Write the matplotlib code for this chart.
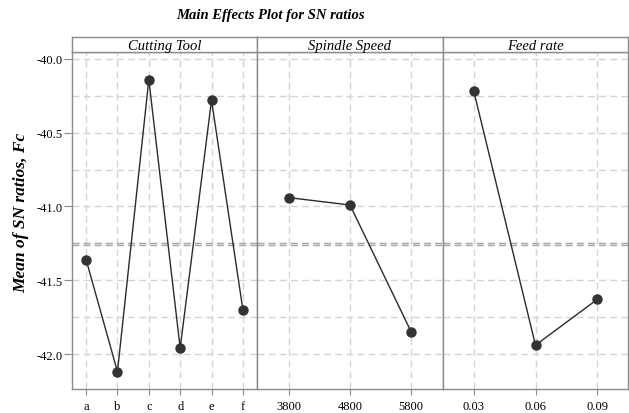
import matplotlib
matplotlib.use("Agg")
import matplotlib.pyplot as plt
import numpy as np

plt.rcParams['font.family'] = ['Liberation Serif', 'DejaVu Serif']

factors = ["Cutting Tool", "Spindle Speed", "Feed rate"]
tool_levels = ["a", "b", "c", "d", "e", "f"]
tool_means = [-41.36, -42.12, -40.14, -41.96, -40.28, -41.70]
speed_levels = ["3800", "4800", "5800"]
speed_means = [-40.94, -40.99, -41.85]
feed_levels = ["0.03", "0.06", "0.09"]
feed_means = [-40.22, -41.94, -41.63]
y_ticks = [-40.0, -40.5, -41.0, -41.5, -42.0]

levels_all = [tool_levels, speed_levels, feed_levels]
means_all = [tool_means, speed_means, feed_means]
grand_mean = float(np.mean(tool_means + speed_means + feed_means))

W, H = 629, 414
fig = plt.figure(figsize=(W / 100, H / 100), dpi=100)

top_px = 53
bot_px = 390
strip_top = 38
panel_edges = [72, 257, 443, 628]
margins = [0.45, 0.52, 0.5]

ylim = (-42.237, -39.953)
frame_col = "#8c8c8c"
grid_col = "#d4d4d4"

for i, (name, levs, vals) in enumerate(zip(factors, levels_all, means_all)):
    x0, x1 = panel_edges[i], panel_edges[i + 1]
    ax = fig.add_axes([x0 / W, (H - bot_px) / H, (x1 - x0) / W, (bot_px - top_px) / H])
    n = len(levs)
    xs = np.arange(1, n + 1)
    ax.set_xlim(1 - margins[i], n + margins[i])
    ax.set_ylim(*ylim)
    for yv in np.arange(-42.0, -39.99, 0.25):
        ax.axhline(yv, color=grid_col, lw=1.0, ls=(0, (5, 3)), zorder=0)
    for xv in xs:
        ax.axvline(xv, color=grid_col, lw=1.0, ls=(0, (5, 3)), zorder=0)
    ax.axhline(-41.245, color="#a8a8a8", lw=1.0, ls=(0, (5, 3)), zorder=1)
    ax.axhline(grand_mean, color="#a8a8a8", lw=1.0, ls=(0, (5, 3)), zorder=1)
    ax.plot(xs, vals, color="#2b2b2b", lw=1.0, marker="o", ms=6.5,
            markerfacecolor="#333333", markeredgecolor="#333333", zorder=3)
    ax.set_xticks(xs)
    ax.set_xticklabels(levs, fontsize=9)
    ax.tick_params(axis="x", length=4, color=frame_col, pad=4)
    if i == 0:
        ax.set_yticks(y_ticks)
        ax.set_yticklabels([f"{v:.1f}" for v in y_ticks], fontsize=9)
        ax.tick_params(axis="y", length=6, color=frame_col, pad=1)
    else:
        ax.set_yticks([])
    for sp in ax.spines.values():
        sp.set_color(frame_col)
        sp.set_linewidth(1.0)
    sax = fig.add_axes([x0 / W, (H - top_px) / H, (x1 - x0) / W, (top_px - strip_top) / H])
    sax.set_xticks([])
    sax.set_yticks([])
    for sp in sax.spines.values():
        sp.set_color(frame_col)
        sp.set_linewidth(1.0)
    sax.text(0.5, 0.45, name, transform=sax.transAxes, ha="center", va="center",
             fontsize=10.5, style="italic")

fig.text(271 / W, 1 - 15 / H, "Main Effects Plot for SN ratios", ha="center", va="center",
         fontsize=10.5, fontweight="bold", style="italic")
fig.text(21 / W, 1 - 213 / H, "Mean of SN ratios, Fc", ha="center", va="center",
         rotation=90, fontsize=12.5, fontweight="bold", style="italic")

fig.savefig("out.png", dpi=100)
